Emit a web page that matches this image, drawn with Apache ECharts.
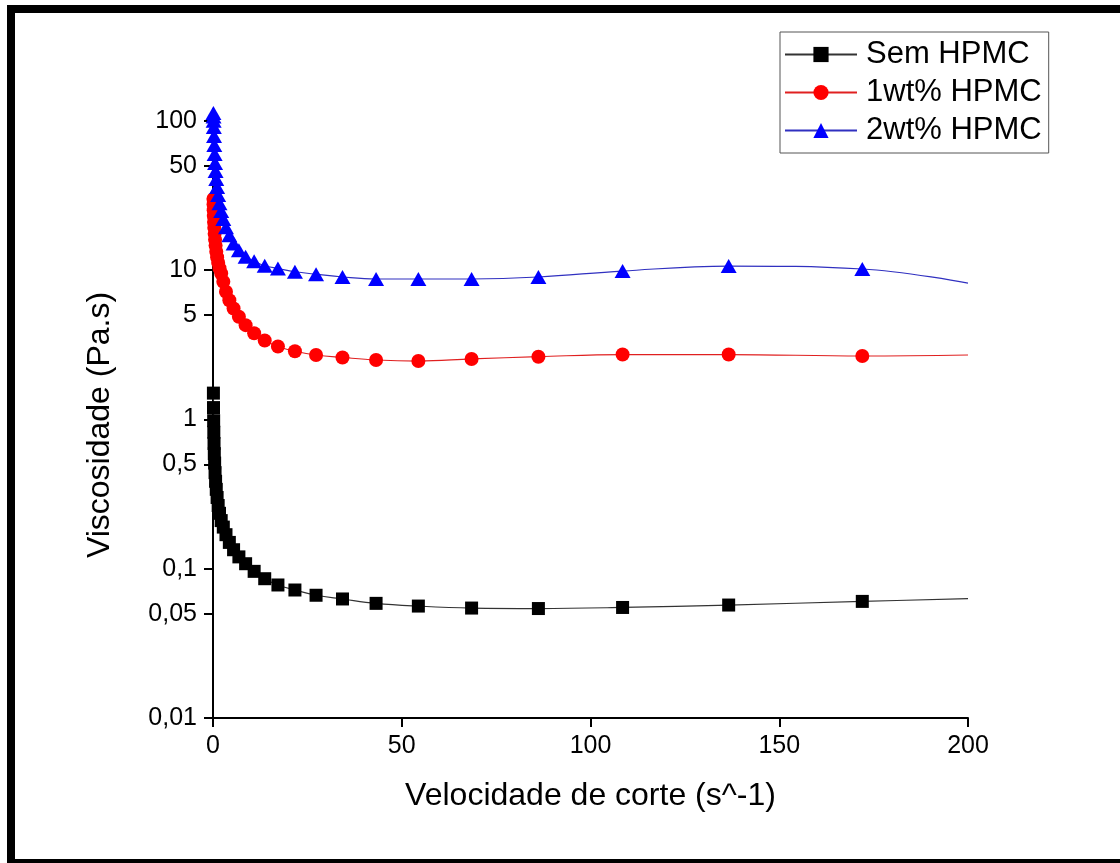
<!DOCTYPE html>
<html>
<head>
<meta charset="utf-8">
<title>Viscosidade vs velocidade de corte</title>
<script src="https://cdn.jsdelivr.net/npm/echarts@6/dist/echarts.min.js"></script>
<style>
  html, body { margin: 0; padding: 0; background: #fff; }
  #chart { width: 1120px; height: 863px; }
</style>
</head>
<body>
<div id="chart"></div>
<script>
// Shear rate (s^-1) of each measured point; the last one only extends the curve
var shearRate = [0.109, 0.137, 0.172, 0.217, 0.273, 0.344, 0.433, 0.545, 0.686, 0.864,
  1.09, 1.37, 1.72, 2.17, 2.73, 3.44, 4.33, 5.45, 6.86, 8.64,
  10.9, 13.7, 17.2, 21.7, 27.3, 34.3, 43.2, 54.4, 68.5, 86.2,
  108.5, 136.6, 172, 200];

// Viscosity (Pa.s)
var semHpmc = [1.5, 1.2, 0.98, 0.82, 0.69, 0.59, 0.51, 0.44, 0.385, 0.34,
  0.30, 0.265, 0.235, 0.21, 0.19, 0.169, 0.15, 0.134, 0.12, 0.108,
  0.096, 0.0857, 0.0778, 0.072, 0.0664, 0.0627, 0.0586, 0.0562, 0.0545, 0.0541,
  0.055, 0.0571, 0.0604, 0.063];

var hpmc1 = [30, 27.5, 25.2, 23, 21, 19.2, 17.5, 16, 14.6, 13.3,
  12.2, 11.2, 10.3, 9.49, 8.35, 7.16, 6.28, 5.53, 4.87, 4.28,
  3.78, 3.38, 3.08, 2.86, 2.70, 2.60, 2.50, 2.46, 2.54, 2.63,
  2.72, 2.72, 2.66, 2.70];

var hpmc2 = [113, 107, 100, 90.9, 79.1, 68.9, 60.0, 52.2, 46.1, 40.8,
  36.0, 31.8, 28.1, 24.9, 22.0, 19.4, 17.1, 15.07, 13.6, 12.28,
  11.47, 10.69, 10.25, 9.75, 9.39, 8.99, 8.72, 8.72, 8.72, 8.99,
  9.86, 10.65, 10.17, 8.19];

var seriesNames = ['Sem HPMC', '1wt% HPMC', '2wt% HPMC'];
var yTickValues = [0.01, 0.05, 0.1, 0.5, 1, 5, 10, 50, 100];
var xTickValues = [0, 50, 100, 150, 200];

function toPoints(values) {
  return shearRate.map(function (x, i) {
    var item = { value: [x, values[i]] };
    // the final point at 200 s^-1 carries the curve only, without a marker
    if (i === shearRate.length - 1) item.symbol = 'none';
    return item;
  });
}

var font = '"Liberation Sans", Arial, sans-serif';
var chart = echarts.init(document.getElementById('chart'), null, { renderer: 'canvas' });

chart.setOption({
  backgroundColor: '#ffffff',
  animation: false,
  grid: { left: 213, right: 152, top: 109, bottom: 145, containLabel: false },
  legend: {
    left: 780, top: 32,
    orient: 'vertical',
    data: seriesNames,
    itemWidth: 72, itemHeight: 19, itemGap: 7,
    padding: [7, 7, 7, 4],
    borderColor: '#555', borderWidth: 1,
    backgroundColor: '#fff',
    textStyle: { fontFamily: font, fontSize: 31, color: '#000', padding: [0, 0, 0, 4] }
  },
  xAxis: {
    type: 'value', min: 0, max: 200, interval: 50,
    name: 'Velocidade de corte (s^-1)',
    nameLocation: 'middle', nameGap: 62,
    nameTextStyle: { fontFamily: font, fontSize: 32, color: '#000' },
    axisLine: { onZero: false, lineStyle: { color: '#000', width: 2 } },
    axisTick: { inside: false, length: 9, lineStyle: { color: '#000', width: 2 }, customValues: xTickValues },
    axisLabel: { fontFamily: font, fontSize: 25, color: '#000', margin: 16, customValues: xTickValues },
    splitLine: { show: false }
  },
  yAxis: {
    type: 'log', logBase: 10, min: 0.01, max: 120,
    name: 'Viscosidade (Pa.s)',
    nameLocation: 'middle', nameGap: 97,
    nameTextStyle: { fontFamily: font, fontSize: 32, color: '#000', padding: [0, 23, 0, 0] },
    axisLine: { show: true, lineStyle: { color: '#000', width: 2 } },
    axisTick: { show: true, length: 9, lineStyle: { color: '#000', width: 2 }, customValues: yTickValues },
    axisLabel: {
      fontFamily: font, fontSize: 25, color: '#000', margin: 16,
      customValues: yTickValues,
      formatter: function (v) { return String(v).replace('.', ','); }
    },
    minorTick: { show: false },
    splitLine: { show: false }
  },
  graphic: [
    { type: 'rect', left: 7, top: 5, shape: { width: 8, height: 858 }, style: { fill: '#000' }, z: 100 },
    { type: 'rect', left: 7, top: 5, shape: { width: 1113, height: 8 }, style: { fill: '#000' }, z: 100 },
    { type: 'rect', left: 7, top: 859, shape: { width: 1113, height: 4 }, style: { fill: '#000' }, z: 100 }
  ],
  series: [
    {
      name: seriesNames[0], type: 'line', data: toPoints(semHpmc),
      smooth: 0.4, symbol: 'rect', symbolSize: 13, showAllSymbol: true,
      itemStyle: { color: '#000' },
      lineStyle: { color: '#333', width: 1.2 }
    },
    {
      name: seriesNames[1], type: 'line', data: toPoints(hpmc1),
      smooth: 0.4, symbol: 'circle', symbolSize: 14, showAllSymbol: true,
      itemStyle: { color: '#ff0000' },
      lineStyle: { color: '#e02020', width: 1.2 }
    },
    {
      name: seriesNames[2], type: 'line', data: toPoints(hpmc2),
      smooth: 0.4, symbol: 'triangle', symbolSize: [16, 14], showAllSymbol: true,
      itemStyle: { color: '#0000ff' },
      lineStyle: { color: '#3030c0', width: 1.2 }
    }
  ]
});
</script>
</body>
</html>
